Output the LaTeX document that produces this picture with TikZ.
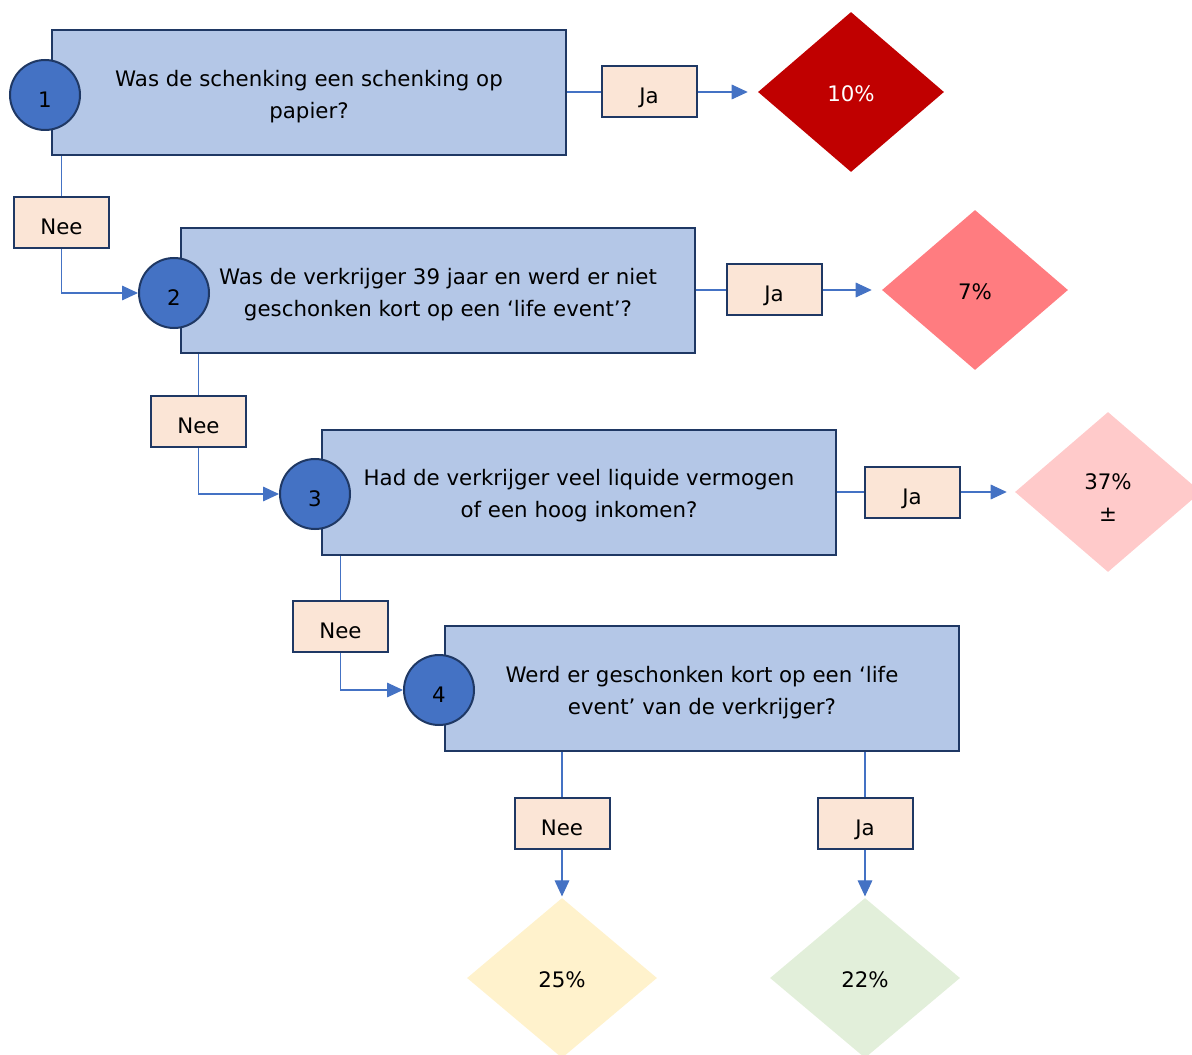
\documentclass[tikz,border=0pt]{standalone}
\usepackage{fontspec}
\setmainfont{DejaVu Sans}
\usetikzlibrary{shapes.geometric,arrows.meta}
\definecolor{navy}{HTML}{1F3864}
\definecolor{qfill}{HTML}{B4C7E7}
\definecolor{circ}{HTML}{4472C4}
\definecolor{lblfill}{HTML}{FBE5D6}
\definecolor{dA}{HTML}{C00000}
\definecolor{dB}{HTML}{FF7C80}
\definecolor{dC}{HTML}{FFCACA}
\definecolor{dD}{HTML}{FFF2CC}
\definecolor{dE}{HTML}{E2EFDA}
\newcommand\qstrut{\rule{0pt}{18pt}}
\begin{document}
\begin{tikzpicture}[x=0.75pt,y=-0.75pt,
  every node/.style={font=\fontsize{16}{24}\selectfont},
  qbox/.style={rectangle,draw=navy,line width=1.5pt,fill=qfill,minimum width=385.5pt,minimum height=93.75pt,align=center,inner sep=0pt},
  numc/.style={circle,draw=navy,line width=1.5pt,fill=circ,minimum size=52.5pt,inner sep=0pt,text height=19pt,text depth=0pt},
  lbl/.style={rectangle,draw=navy,line width=1.5pt,fill=lblfill,minimum width=71.25pt,minimum height=38.25pt,inner sep=0pt,text height=18pt,text depth=0pt},
  dia/.style={diamond,minimum width=139.5pt,minimum height=120pt,inner sep=0pt,align=center},
  pct/.style={dia,text height=14pt,text depth=0pt},
  conn/.style={draw=circ,line width=0.8pt},
  arr/.style={conn,-{Triangle[length=12pt,width=11pt]}}
]
\useasboundingbox (0,0) rectangle (1192,1055);
% question boxes
\node[qbox] (q1) at (309,92.5) {\qstrut Was de schenking een schenking op\\papier?};
\node[qbox] (q2) at (438,290.5) {\qstrut Was de verkrijger 39 jaar en werd er niet\\geschonken kort op een ‘life event’?};
\node[qbox] (q3) at (579,492) {\qstrut Had de verkrijger veel liquide vermogen\\of een hoog inkomen?};
\node[qbox] (q4) at (702,688.5) {\qstrut Werd er geschonken kort op een ‘life\\event’ van de verkrijger?};
% number circles
\node[numc] (c1) at (45,95) {1};
\node[numc] (c2) at (174,293) {2};
\node[numc] (c3) at (315,494) {3};
\node[numc] (c4) at (439,690) {4};
% labels
\node[lbl] (j1) at (649,92) {Ja};
\node[lbl] (n1) at (61.5,222.5) {Nee};
\node[lbl] (j2) at (774,290) {Ja};
\node[lbl] (n2) at (198.5,421.5) {Nee};
\node[lbl] (j3) at (912,492) {Ja};
\node[lbl] (n3) at (340.5,626.5) {Nee};
\node[lbl] (n4) at (562,823) {Nee};
\node[lbl] (j4) at (865,823) {Ja};
% diamonds
\node[pct,fill=dA,text=white] (d1) at (851,92) {10\%};
\node[pct,fill=dB] (d2) at (975,290) {7\%};
\node[dia,fill=dC] (d3) at (1108,492) {\rule{0pt}{20pt}37\%\\±};
\node[pct,fill=dD,minimum width=142.5pt] (d4) at (562,978) {25\%};
\node[pct,fill=dE,minimum width=142.5pt] (d5) at (865,978) {22\%};
% connectors: Ja branches
\draw[conn] (q1.east |- j1) -- (j1.west);
\draw[arr,shorten >=7.5pt] (j1.east) -- (d1.west);
\draw[conn] (q2.east |- j2) -- (j2.west);
\draw[arr,shorten >=7.5pt] (j2.east) -- (d2.west);
\draw[conn] (q3.east |- j3) -- (j3.west);
\draw[arr,shorten >=6pt] (j3.east) -- (d3.west);
% connectors: Nee branches
\draw[conn] (q1.south -| n1.north) -- (n1.north);
\draw[arr] (n1.south) |- (c2.west);
\draw[conn] (q2.south -| n2.north) -- (n2.north);
\draw[arr] (n2.south) |- (c3.west);
\draw[conn] (q3.south -| n3.north) -- (n3.north);
\draw[arr] (n3.south) |- (c4.west);
% bottom
\draw[conn] (q4.south -| n4.north) -- (n4.north);
\draw[arr,shorten >=1pt] (n4.south) -- (d4.north);
\draw[conn] (q4.south -| j4.north) -- (j4.north);
\draw[arr,shorten >=1pt] (j4.south) -- (d5.north);
\end{tikzpicture}
\end{document}
